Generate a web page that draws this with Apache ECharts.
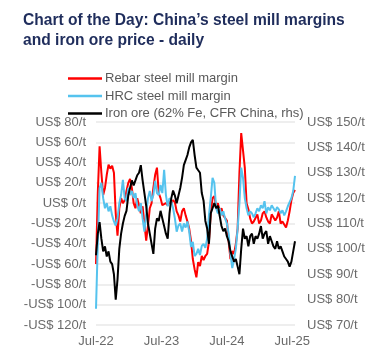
<!DOCTYPE html>
<html><head><meta charset="utf-8">
<script src="https://cdn.jsdelivr.net/npm/echarts@6/dist/echarts.min.js"></script>
<style>html,body{margin:0;padding:0;background:#fff;} #c{width:376px;height:359px;}</style>
</head><body><div id="c"></div>
<script>
const titleText = 'Chart of the Day: China\u2019s steel mill margins\nand iron ore price - daily';
const seriesNames = ['Rebar steel mill margin', 'HRC steel mill margin', 'Iron ore (62% Fe, CFR China, rhs)'];
const startDate = '2022-07-01';
const stepDays = 10;
const tickLabels = ['Jul-22', 'Jul-23', 'Jul-24', 'Jul-25'];

const rebar = [
  -60, 10, 56, 30, 8, 15, 28, 38, 34, 37,
  30, -10, -32, -5, 5, 0, 3, 12, 20, 24,
  15, 0, -5, 5, -2, -10, -3, -20, -37, -22,
  -5, 0, 15, 28, 35, 10, 5, -2, -3, 0,
  -2, 2, -1, 3, 1, -8, -12, -18, -8, -5,
  -12, -18, -25, -37, -55, -65, -73, -58, -62, -52,
  -56, -52, -50, -38, -10, 5, 7, -3, 0, -8,
  -5, -12, -12, -17, -38, -55, -47, -50, -40, -25,
  30, 69, 52, 35, 0, -6, -15, -20, -18, -17,
  -11, -20, -17, -10, -8, -14, -18, -20, -11, -10,
  -17, -14, -8, -20, -18, -21, -24, -17, -8, 3,
  10, 13
];
const hrc = [
  -104, -40, 15, 20, 5, -5, 0, -8, -3, -12,
  -18, -22, -15, 0, 8, 23, 5, 2, 15, 8,
  12, 5, 10, -2, -8, 0, -15, -28, -10, 5,
  12, 2, 8, 22, 10, 8, 18, 10, 33, 8,
  -3, 5, 2, -5, -15, -28, -22, -20, -28, -20,
  -24, -18, -28, -43, -38, -52, -50, -45, -51, -42,
  -40, -44, -35, -12, 5, 25, 20, -5, -10, -5,
  -12, -8, -15, -20, -30, -50, -64, -55, -45, -25,
  0, 35, 25, 5, -5, -12, -8, -10, -14, -10,
  -5, -8, -2, -5, 2, -10, -4, -7, -2, -5,
  -8, -4, -6, -10, -7, -12, -8, -3, -3, 5,
  12, 27
];
const ironOre = [
  97.5, 106, 110.5, 104, 99, 101, 97, 99, 95, 94,
  90, 80, 88, 100, 106, 110, 113, 115, 121, 124,
  127, 125, 127, 129, 130, 133, 127, 122, 117, 110,
  106, 102, 98, 108, 112, 111, 115, 112, 109, 106,
  104, 114, 120, 123, 121, 118, 121, 124, 128, 133,
  135, 137, 140, 142, 143, 137, 132, 131, 130, 122,
  119, 111, 108, 102, 114, 116, 118, 116, 117, 113,
  109, 107, 108, 105, 103, 99, 97, 95, 96, 93,
  90, 100, 108, 104, 105, 101, 105, 106, 102, 105,
  104, 106, 109, 104, 106, 107, 102, 105, 103, 101,
  100, 103, 100, 101, 99, 97, 96, 95, 93, 95,
  99, 103
];

const dayOffsets = rebar.map((_, i) => i * stepDays);
const pair = arr => arr.map((v, i) => [dayOffsets[i], v]);

const font = '"Liberation Sans", Arial, Helvetica, sans-serif';
const labelColor = '#6a6a6a';

const chart = echarts.init(document.getElementById('c'), null, {renderer: 'canvas'});
chart.setOption({
  animation: false,
  backgroundColor: '#ffffff',
  title: {
    text: titleText,
    left: 18, top: 6,
    textStyle: {fontFamily: font, fontSize: 15.6, fontWeight: 'bold', color: '#1f2d5c', lineHeight: 20}
  },
  legend: {
    orient: 'vertical',
    left: 63, top: 67,
    itemWidth: 34, itemHeight: 2.5, itemGap: 4.5,
    icon: 'rect',
    textStyle: {fontFamily: font, fontSize: 13, color: '#5a5a5a', lineHeight: 13, padding: [0, 0, 0, -2]},
    data: seriesNames
  },
  grid: {left: 96, right: 81, top: 122, bottom: 34, containLabel: false},
  xAxis: {
    type: 'value',
    min: 0, max: 1110, interval: 365,
    axisLine: {show: false}, axisTick: {show: false}, splitLine: {show: false},
    axisLabel: {
      margin: 10, color: labelColor, fontFamily: font, fontSize: 13,
      showMaxLabel: false,
      formatter: v => (v % 365 === 0 && tickLabels[v / 365]) ? tickLabels[v / 365] : ''
    }
  },
  yAxis: [{
    type: 'value', min: -120, max: 80, interval: 20,
    axisLine: {show: false}, axisTick: {show: false},
    splitLine: {lineStyle: {color: '#e8e8e8', width: 1.5}},
    axisLabel: {margin: 10, color: labelColor, fontFamily: font, fontSize: 13,
      formatter: v => v < 0 ? '-US$ ' + (-v) + '/t' : 'US$ ' + v + '/t'}
  }, {
    type: 'value', min: 70, max: 150, interval: 10, position: 'right',
    axisLine: {show: false}, axisTick: {show: false}, splitLine: {show: false},
    axisLabel: {margin: 12, color: labelColor, fontFamily: font, fontSize: 13,
      formatter: v => 'US$ ' + v + '/t'}
  }],
  series: [{
    name: seriesNames[0], type: 'line', data: pair(rebar), yAxisIndex: 0,
    symbol: 'none', color: '#ff0000', lineStyle: {width: 2, color: '#ff0000'}
  }, {
    name: seriesNames[1], type: 'line', data: pair(hrc), yAxisIndex: 0,
    symbol: 'none', color: '#55c3ee', lineStyle: {width: 2, color: '#55c3ee'}
  }, {
    name: seriesNames[2], type: 'line', data: pair(ironOre), yAxisIndex: 1,
    symbol: 'none', color: '#000000', lineStyle: {width: 2, color: '#000000'}
  }]
});
</script></body></html>
